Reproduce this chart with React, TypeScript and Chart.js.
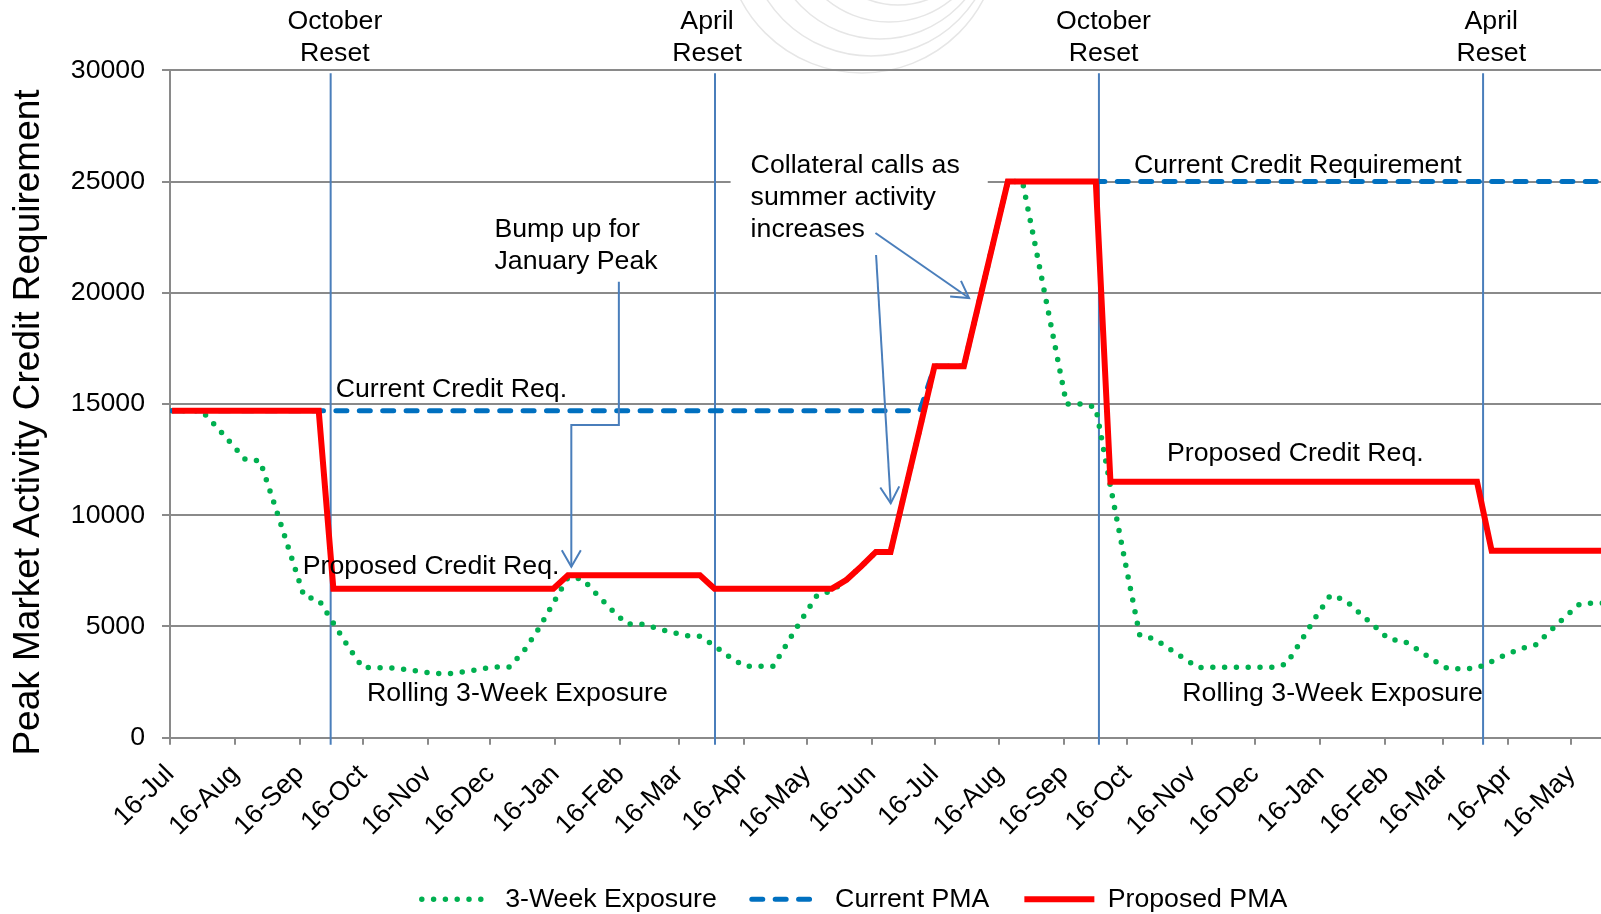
import React, { useEffect, useRef } from 'react';
import { Chart, registerables } from 'chart.js';

Chart.register(...registerables);

const FONT = '"Liberation Sans", Arial, Helvetica, sans-serif';
const FS = 26.7;

// ---- x axis (days counted from the first 16-Jul) ----
const tickLabels = [
  '16-Jul', '16-Aug', '16-Sep', '16-Oct', '16-Nov', '16-Dec', '16-Jan', '16-Feb', '16-Mar', '16-Apr', '16-May', '16-Jun',
  '16-Jul', '16-Aug', '16-Sep', '16-Oct', '16-Nov', '16-Dec', '16-Jan', '16-Feb', '16-Mar', '16-Apr', '16-May',
];
const tickDays = [0, 31, 62, 92, 123, 153, 184, 215, 243, 274, 304, 335, 365, 396, 427, 457, 488, 518, 549, 580, 608, 639, 669];
const xMaxDay = 683.2;
const firstWeekDay = 1;
const weekLength = 7;

// ---- weekly series ----
const exposure3Week = [
  14700, 14700, 14700, 14000, 13250, 12500, 12450, 10450, 8400, 6350,
  6200, 5150, 4100, 3150, 3150, 3130, 3060, 2970, 2880, 2890,
  2970, 3080, 3180, 3180, 3900, 4900, 6050, 7200, 7130, 6420,
  5740, 5110, 5110, 4930, 4750, 4590, 4560, 4130, 3640, 3220,
  3210, 3210, 4300, 5380, 6410, 6600, 7100, 7700, 8350, 8350,
  11130, 13900, 16700, 16700, 16700, 19470, 22230, 25000, 25000, 21700,
  18350, 15000, 15000, 14850, 11300, 7900, 4600, 4440, 4000, 3570,
  3150, 3165, 3165, 3165, 3165, 3165, 3310, 4345, 5425, 6400,
  6190, 5600, 5020, 4420, 4350, 3940, 3490, 3110, 3100, 3130,
  3425, 3740, 4010, 4170, 4800, 5430, 6010, 6050, 6050,
];

const currentPMA = [
  14700, 14700, 14700, 14700, 14700, 14700, 14700, 14700, 14700, 14700,
  14700, 14700, 14700, 14700, 14700, 14700, 14700, 14700, 14700, 14700,
  14700, 14700, 14700, 14700, 14700, 14700, 14700, 14700, 14700, 14700,
  14700, 14700, 14700, 14700, 14700, 14700, 14700, 14700, 14700, 14700,
  14700, 14700, 14700, 14700, 14700, 14700, 14700, 14700, 14700, 14700,
  14700, 14700, 16700, 16700, 16700, 19470, 22230, 25000, 25000, 25000,
  25000, 25000, 25000, 25000, 25000, 25000, 25000, 25000, 25000, 25000,
  25000, 25000, 25000, 25000, 25000, 25000, 25000, 25000, 25000, 25000,
  25000, 25000, 25000, 25000, 25000, 25000, 25000, 25000, 25000, 25000,
  25000, 25000, 25000, 25000, 25000, 25000, 25000, 25000, 25000,
];

const proposedPMA = [
  14700, 14700, 14700, 14700, 14700, 14700, 14700, 14700, 14700, 14700,
  14700, 6700, 6700, 6700, 6700, 6700, 6700, 6700, 6700, 6700,
  6700, 6700, 6700, 6700, 6700, 6700, 6700, 7300, 7300, 7300,
  7300, 7300, 7300, 7300, 7300, 7300, 7300, 6700, 6700, 6700,
  6700, 6700, 6700, 6700, 6700, 6700, 7100, 7700, 8350, 8350,
  11130, 13900, 16700, 16700, 16700, 19470, 22230, 25000, 25000, 25000,
  25000, 25000, 25000, 25000, 11500, 11500, 11500, 11500, 11500, 11500,
  11500, 11500, 11500, 11500, 11500, 11500, 11500, 11500, 11500, 11500,
  11500, 11500, 11500, 11500, 11500, 11500, 11500, 11500, 11500, 11500,
  8400, 8400, 8400, 8400, 8400, 8400, 8400, 8400, 8400,
];

// ---- reset markers ----
const resetDays = [76.7, 260.2, 443.5, 626.9];
const resetLabelDays = [78.7, 256.4, 445.7, 630.8];
const resetLabels = [['October', 'Reset'], ['April', 'Reset'], ['October', 'Reset'], ['April', 'Reset']];

// ---- callouts (anchor in day / value units) ----
const callouts = [
  { lines: ['Current Credit Req.'], day: 79.1, value: 15719 },
  { lines: ['Bump up for', 'January Peak'], day: 154.9, value: 22911 },
  { lines: ['Collateral calls as', 'summer activity', 'increases'], day: 277.2, value: 25788, box: true },
  { lines: ['Proposed Credit Req.'], day: 63.4, value: 7794 },
  { lines: ['Rolling 3-Week Exposure'], day: 94.1, value: 2068 },
  { lines: ['Current Credit Requirement'], day: 460.2, value: 25820 },
  { lines: ['Proposed Credit Req.'], day: 476, value: 12855 },
  { lines: ['Rolling 3-Week Exposure'], day: 483.3, value: 2068 },
];
const arrows = [
  [[214.3, 20497], [214.3, 14056], [191.6, 14056], [191.6, 7686]],
  [[336.8, 22686], [381.5, 19765]],
  [[337.1, 21697], [344.1, 10536]],
];

const yTitle = 'Peak Market Activity Credit Requirement';

const toPoints = (vals: number[]) => vals.map((v, i) => ({ x: firstWeekDay + i * weekLength, y: v }));

const LINE_BLUE = '#4a7ebb';
const GRID = '#8a8a8a';

function drawArrow(ctx: CanvasRenderingContext2D, pts: number[][]) {
  ctx.save();
  ctx.strokeStyle = LINE_BLUE;
  ctx.lineWidth = 2;
  ctx.lineJoin = 'miter';
  ctx.beginPath();
  ctx.moveTo(pts[0][0], pts[0][1]);
  for (let i = 1; i < pts.length; i++) ctx.lineTo(pts[i][0], pts[i][1]);
  ctx.stroke();
  const [x1, y1] = pts[pts.length - 2];
  const [x2, y2] = pts[pts.length - 1];
  const ang = Math.atan2(y2 - y1, x2 - x1);
  const L = 19;
  const a = Math.PI / 6;
  ctx.beginPath();
  ctx.moveTo(x2 - L * Math.cos(ang - a), y2 - L * Math.sin(ang - a));
  ctx.lineTo(x2, y2);
  ctx.lineTo(x2 - L * Math.cos(ang + a), y2 - L * Math.sin(ang + a));
  ctx.stroke();
  ctx.restore();
}

const annotationPlugin = {
  id: 'annotations',
  afterLayout(chart: any) {
    if (chart.legend) chart.legend.left = 108;
  },
  beforeDraw(chart: any) {
    const { ctx } = chart;
    ctx.save();
    ctx.beginPath();
    ctx.rect(700, 0, 320, 76);
    ctx.clip();
    ctx.strokeStyle = '#e6e6e6';
    ctx.lineWidth = 1.5;
    for (let i = 0; i < 7; i++) {
      ctx.beginPath();
      ctx.arc(862 + i * 9, -64 - i * 4, 137 - i * 13, 0, Math.PI);
      ctx.stroke();
    }
    ctx.restore();
  },
  beforeDatasetsDraw(chart: any) {
    const { ctx, chartArea } = chart;
    const sx = chart.scales.x;
    const sy = chart.scales.y;
    ctx.save();
    ctx.font = `${FS}px ${FONT}`;
    callouts.forEach((c) => {
      if (!c.box) return;
      const x = sx.getPixelForValue(c.day);
      const y = sy.getPixelForValue(c.value);
      let w = 0;
      c.lines.forEach((l) => (w = Math.max(w, ctx.measureText(l).width)));
      ctx.fillStyle = '#ffffff';
      ctx.fillRect(x - 20, y - 16, w + 48, c.lines.length * 32 + 10);
    });
    ctx.strokeStyle = LINE_BLUE;
    ctx.lineWidth = 2;
    resetDays.forEach((d) => {
      const x = sx.getPixelForValue(d);
      ctx.beginPath();
      ctx.moveTo(x, chartArea.top + 3);
      ctx.lineTo(x, chartArea.bottom + 7);
      ctx.stroke();
    });
    ctx.restore();
  },
  afterDatasetsDraw(chart: any) {
    const { ctx } = chart;
    const sx = chart.scales.x;
    const sy = chart.scales.y;
    const DY = 2;
    ctx.save();
    ctx.fillStyle = '#000';
    ctx.font = `${FS}px ${FONT}`;
    ctx.textBaseline = 'middle';
    ctx.textAlign = 'center';
    resetLabels.forEach((lines, i) => {
      const x = sx.getPixelForValue(resetLabelDays[i]);
      const y0 = sy.getPixelForValue(32229) + 1;
      lines.forEach((l, j) => ctx.fillText(l, x, y0 + j * 32));
    });
    ctx.textAlign = 'left';
    callouts.forEach((c) => {
      const x = sx.getPixelForValue(c.day);
      const y = sy.getPixelForValue(c.value) + DY;
      c.lines.forEach((l, j) => ctx.fillText(l, x, y + j * 32));
    });
    arrows.forEach((a) => drawArrow(ctx, a.map(([d, v]) => [sx.getPixelForValue(d), sy.getPixelForValue(v)])));
    ctx.save();
    ctx.translate(29.2, 422.5);
    ctx.rotate(-Math.PI / 2);
    ctx.textAlign = 'center';
    ctx.font = `37px ${FONT}`;
    ctx.fillText(yTitle, 0, 0);
    ctx.restore();
    ctx.restore();
  },
};

export default function App() {
  const ref = useRef<HTMLCanvasElement>(null);
  useEffect(() => {
    const chart = new Chart(ref.current as HTMLCanvasElement, {
      type: 'line',
      data: {
        datasets: [
          {
            label: '3-Week Exposure',
            data: toPoints(exposure3Week),
            borderColor: '#00b050',
            backgroundColor: '#00b050',
            borderWidth: 5.5,
            borderDash: [0, 11.8],
            borderCapStyle: 'round',
            pointRadius: 0,
            fill: false,
            order: 2,
          },
          {
            label: 'Current PMA',
            data: toPoints(currentPMA),
            borderColor: '#0070c0',
            backgroundColor: '#0070c0',
            borderWidth: 5,
            borderDash: [11, 12.4],
            borderCapStyle: 'round',
            pointRadius: 0,
            fill: false,
            order: 1,
          },
          {
            label: 'Proposed PMA',
            data: toPoints(proposedPMA),
            borderColor: '#ff0000',
            backgroundColor: '#ff0000',
            borderWidth: 6,
            borderJoinStyle: 'miter',
            borderCapStyle: 'butt',
            pointRadius: 0,
            fill: false,
            order: 0,
          },
        ],
      },
      options: {
        responsive: false,
        animation: false,
        devicePixelRatio: 1,
        events: [],
        layout: { padding: { left: 0, top: 70.3, right: 0, bottom: 0 } },
        plugins: {
          legend: {
            position: 'bottom',
            maxHeight: 63,
            labels: {
              usePointStyle: true,
              pointStyle: 'line',
              pointStyleWidth: 70,
              padding: 35,
              color: '#000',
              font: { family: FONT, size: FS },
              generateLabels: (ch: any) => {
                const items = Chart.defaults.plugins.legend.labels.generateLabels(ch);
                return items
                  .map((it: any) => {
                    const ds = ch.data.datasets[it.datasetIndex];
                    return {
                      ...it,
                      pointStyle: 'line',
                      lineDash: ds.borderDash || [],
                      lineCap: ds.borderCapStyle,
                      lineWidth: ds.borderWidth,
                      strokeStyle: ds.borderColor,
                      fillStyle: ds.borderColor,
                    };
                  })
                  .sort((a: any, b: any) => a.datasetIndex - b.datasetIndex);
              },
            },
          },
          tooltip: { enabled: false },
        },
        scales: {
          x: {
            type: 'linear',
            min: 0,
            max: xMaxDay,
            afterBuildTicks: (s: any) => {
              s.ticks = tickDays.map((v) => ({ value: v }));
            },
            afterFit: (s: any) => {
              s.height = 113.3;
              s.paddingRight = 0;
            },
            ticks: {
              autoSkip: false,
              maxRotation: 45,
              minRotation: 45,
              color: '#000',
              font: { family: FONT, size: FS },
              padding: 14,
              callback: (_v: any, i: number) => tickLabels[i],
            },
            grid: { drawOnChartArea: false, drawTicks: true, tickLength: 7, color: GRID, lineWidth: 2 },
            border: { color: GRID, width: 2 },
          },
          y: {
            min: 0,
            max: 30000,
            afterFit: (s: any) => {
              s.width = 170;
            },
            ticks: {
              stepSize: 5000,
              color: '#000',
              font: { family: FONT, size: FS },
              padding: 17,
              callback: (v: any) => String(v),
            },
            grid: { color: GRID, lineWidth: 2, tickLength: 8 },
            border: { color: GRID, width: 2 },
          },
        },
      },
      plugins: [annotationPlugin],
    } as any);
    return () => chart.destroy();
  }, []);
  return (
    <div style={{ position: 'fixed', left: 0, top: 0, width: 1601, height: 914, background: '#fff' }}>
      <canvas ref={ref} width={1601} height={914} style={{ width: 1601, height: 914, display: 'block' }} />
    </div>
  );
}
